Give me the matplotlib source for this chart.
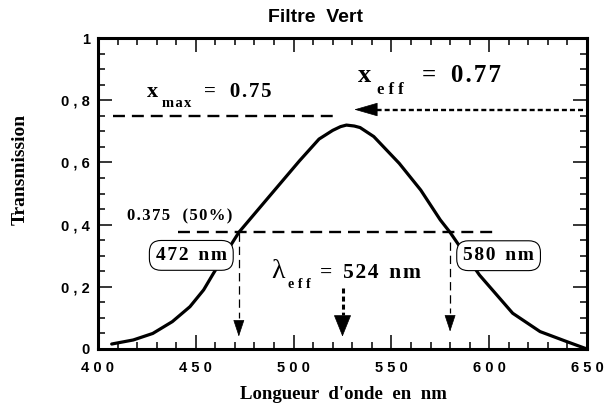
import matplotlib
matplotlib.use("Agg")
import matplotlib.pyplot as plt
from matplotlib.ticker import MultipleLocator, FixedLocator, FixedFormatter

# ---- data ----
wavelength = [407, 418, 428, 438, 447, 454, 459, 467, 472, 486, 503, 513,
              520, 524, 527, 531, 534, 541, 554, 565, 575, 580, 595,
              612, 626, 640, 650]
transmission = [0.016, 0.029, 0.050, 0.088, 0.136, 0.190, 0.243, 0.325, 0.375,
                0.479, 0.605, 0.675, 0.703, 0.715, 0.720, 0.717, 0.712,
                0.683, 0.597, 0.511, 0.415, 0.375, 0.238, 0.115,
                0.056, 0.023, 0.0]
x_ticks = [400, 450, 500, 550, 600, 650]
x_tick_labels = ["4 0 0", "4 5 0", "5 0 0", "5 5 0", "6 0 0", "6 5 0"]
y_ticks = [0, 0.2, 0.4, 0.6, 0.8, 1.0]
y_tick_labels = ["0", "0 , 2", "0 , 4", "0 , 6", "0 , 8", "1"]
x_max = 0.75
x_eff = 0.77
half_level = 0.375
lambda_low = 472
lambda_high = 580
lambda_eff = 524

plt.rcParams['lines.scale_dashes'] = False
SANS = 'Liberation Sans'
SERIF = 'Liberation Serif'
HS = '\u200a'


def track(s):
    return HS.join(s)


fig = plt.figure(figsize=(6.07, 4.09), dpi=100)
W, H = 607, 409
ax = fig.add_axes([98 / W, 1 - 349 / H, (587 - 98) / W, (349 - 38) / H])
ax.set_xlim(400, 650)
ax.set_ylim(0, 1)

# curve
ax.plot(wavelength, transmission, color='black', lw=2.3, solid_joinstyle='round',
        solid_capstyle='round', zorder=3)

# spines and ticks
for s in ax.spines.values():
    s.set_linewidth(2.2)
ax.xaxis.set_major_locator(FixedLocator(x_ticks))
ax.xaxis.set_major_formatter(FixedFormatter(x_tick_labels))
ax.yaxis.set_major_locator(FixedLocator(y_ticks))
ax.yaxis.set_major_formatter(FixedFormatter(y_tick_labels))
ax.xaxis.set_minor_locator(MultipleLocator(10))
ax.yaxis.set_minor_locator(MultipleLocator(0.05))
ax.tick_params(which='both', direction='in', top=True, right=True, width=1.1)
ax.tick_params(which='major', length=10)
ax.tick_params(which='minor', length=5)
ax.tick_params(axis='x', which='major', pad=9)
ax.tick_params(axis='y', which='major', pad=6)
for lab in ax.get_xticklabels() + ax.get_yticklabels():
    lab.set_fontfamily(SANS)
    lab.set_fontweight('bold')
    lab.set_fontsize(10.5)

# title and axis labels
fig.text(315.5 / W, 1 - 21.7 / H, "Filtre  Vert", family=SANS, weight='bold',
         fontsize=14, ha='center', va='baseline')
fig.text(343 / W, 1 - 399 / H, "Longueur  d'onde  en  nm", family=SERIF,
         weight='bold', fontsize=13.5, ha='center', va='baseline')
fig.text(20 / W, 1 - 169.5 / H, "Transmission", family=SERIF, weight='bold',
         fontsize=14, ha='center', va='center', rotation=90)

# x_max dashed line and text
ax.plot([407.8, 522], [x_max, x_max], color='black', lw=1.7,
        linestyle=(0, (8.6, 5.0)))
ax.text(424.9, 0.809, "x", family=SERIF, weight='bold', fontsize=16, va='baseline')
ax.text(432.6, 0.777, track("max"), family=SERIF, weight='bold', fontsize=10.5,
        va='baseline')
ax.text(454.2, 0.809, "=  " + HS + HS + track("0.75"), family=SERIF, weight='bold',
        fontsize=15, va='baseline')

# x_eff dotted arrow and text
ax.plot([648, 541], [x_eff, x_eff], color='black', lw=1.7,
        linestyle=(0, (3.6, 2.2)))
ax.annotate('', xy=(531, x_eff), xytext=(542.5, x_eff),
            arrowprops=dict(arrowstyle='-|>,head_length=1.56,head_width=0.45',
                            mutation_scale=10, color='black', lw=0.5,
                            shrinkA=0, shrinkB=0))
ax.text(533.1, 0.858, "x", family=SERIF, weight='bold', fontsize=19, va='baseline')
ax.text(542.5, 0.819, "e f f", family=SERIF, weight='bold', fontsize=12,
        va='baseline')
ax.text(565.5, 0.858, "=  " + HS + track("0.77"), family=SERIF, weight='bold',
        fontsize=18, va='baseline')

# half maximum line and text
ax.plot([441, 604], [half_level, half_level], color='black', lw=1.7,
        linestyle=(0, (8.6, 5.0)))
ax.text(414.7, 0.415, track("0.375") + "   " + track("(50%)"), family=SERIF,
        weight='bold', fontsize=12, va='baseline')

# vertical thin dashed arrows
for lam, y0, tip in [(lambda_low, 0.372, 0.040), (lambda_high, 0.345, 0.056)]:
    base = tip + 15 / 311
    ax.plot([lam, lam], [y0, base + 0.01], color='black', lw=0.9,
            linestyle=(0, (6, 3.5)))
    ax.annotate('', xy=(lam, tip), xytext=(lam, base),
                arrowprops=dict(arrowstyle='-|>,head_length=1.08,head_width=0.36',
                                mutation_scale=10, color='black', lw=0.5,
                                shrinkA=0, shrinkB=0))

# boxes with wavelengths
box = dict(boxstyle='round,pad=0.33,rounding_size=0.6', fc='white', ec='black',
           lw=0.8)
ax.text(447.7, 0.301, track(str(lambda_low)) + "  " + track("nm"), family=SERIF,
        weight='bold', fontsize=14, ha='center', va='center', bbox=box, zorder=5)
ax.text(604.8, 0.300, track(str(lambda_high)) + "  " + track("nm"), family=SERIF,
        weight='bold', fontsize=14, ha='center', va='center', bbox=box, zorder=5)

# lambda_eff arrow and text
ax.plot([lambda_eff + 1, lambda_eff + 1], [0.196, 0.11], color='black', lw=2.2,
        linestyle=(0, (3.6, 2.2)))
ax.annotate('', xy=(lambda_eff + 1, 0.040), xytext=(lambda_eff + 1, 0.104),
            arrowprops=dict(arrowstyle='-|>,head_length=1.44,head_width=0.58',
                            mutation_scale=10, color='black', lw=0.5,
                            shrinkA=0, shrinkB=0))
ax.text(488.8, 0.228, "\u03bb", family=SERIF, fontsize=20, va='baseline')
ax.text(497.1, 0.196, "e f f", family=SERIF, weight='bold', fontsize=10,
        va='baseline')
ax.text(513.5, 0.228, "=  " + track(str(lambda_eff)) + "  " + track("nm"),
        family=SERIF, weight='bold', fontsize=15.5, va='baseline')

fig.savefig("out.png", dpi=100)
